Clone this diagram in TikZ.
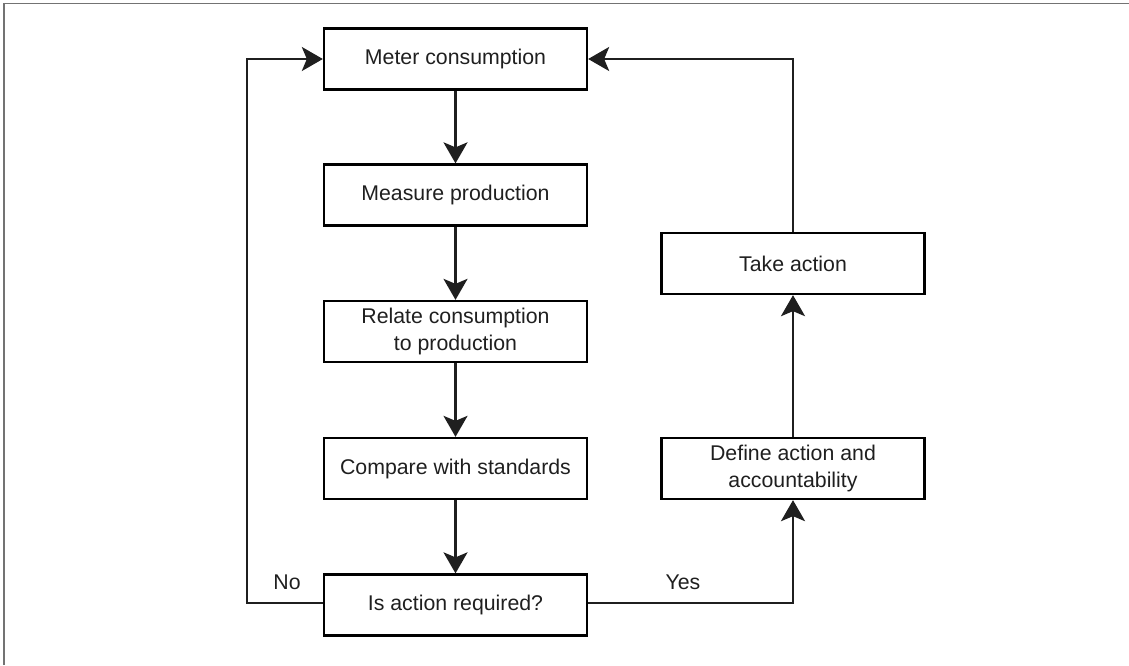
\documentclass[tikz,border=0pt]{standalone}
\usepackage{fontspec}
\setmainfont{Liberation Sans}
\usetikzlibrary{arrows.meta}
\begin{document}
\begin{tikzpicture}[x=1pt,y=-1pt,
  box/.style={draw, line width=2.3pt, minimum width=263pt, minimum height=61pt, align=center, inner sep=2pt, font=\fontsize{21.3}{27}\selectfont, text=black!88},
  conn/.style={line width=2.3pt, draw=black!88},
  arr/.style={conn, -{Stealth[length=21pt, width=24pt, inset=5pt]}},
  lbl/.style={font=\fontsize{21.3}{25}\selectfont, text=black!88}]
\useasboundingbox (0,0) rectangle (1129,665);
\draw[black!55, line width=1.2pt] (4,665) -- (4,3.5) -- (1129,3.5);
\node[box] (meter) at (455.5,59) {Meter consumption};
\node[box] (measure) at (455.5,195) {Measure production};
\node[box] (relate) at (455.5,331.5) {Relate consumption\\to production};
\node[box] (compare) at (455.5,468.5) {Compare with standards};
\node[box] (isact) at (455.5,605) {Is action required?};
\node[box] (take) at (793,263.5) {Take action};
\node[box] (define) at (793,468.5) {Define action and\\accountability};
\coordinate (nocorner) at (247,603);
\draw[arr] (meter.south) -- (measure.north);
\draw[arr] (measure.south) -- (relate.north);
\draw[arr] (relate.south) -- (compare.north);
\draw[arr] (compare.south) -- (isact.north);
\draw[arr] (isact.west |- nocorner) -- (nocorner) |- (meter.west);
\draw[arr] (isact.east |- nocorner) -| (define.south);
\draw[arr] (define.north) -- (take.south);
\draw[arr] (take.north) |- (meter.east);
\node[lbl] (no) at (287,582) {No};
\node[lbl] (yes) at (683,582) {Yes};
\end{tikzpicture}
\end{document}
